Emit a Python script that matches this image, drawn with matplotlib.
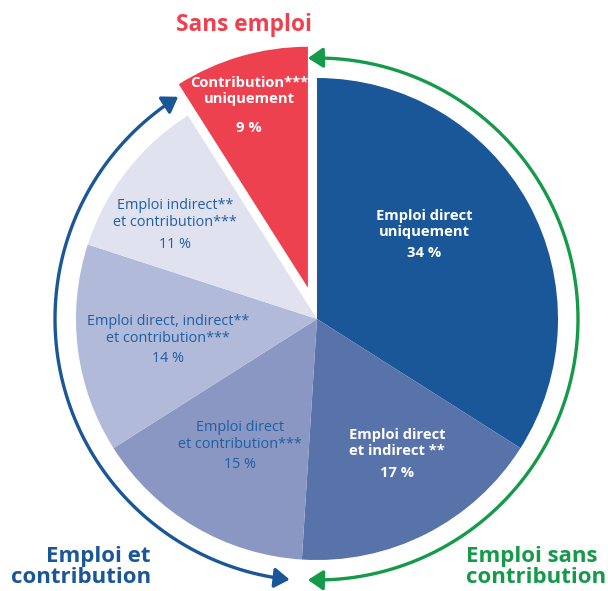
import numpy as np
import matplotlib
matplotlib.use('Agg')
import matplotlib.pyplot as plt
from matplotlib.patches import FancyArrowPatch
from matplotlib.path import Path

# data
shares = [34, 17, 15, 14, 11, 9]
slice_names = ['Emploi direct\nuniquement', 'Emploi direct\net indirect **',
               'Emploi direct\net contribution***', 'Emploi direct, indirect**\net contribution***',
               'Emploi indirect**\net contribution***', 'Contribution***\nuniquement']
group_titles = ['Sans emploi', 'Emploi sans\ncontribution', 'Emploi et\ncontribution']

colors = ['#1a5798', '#5872aa', '#8a97c3', '#b1bad9', '#e0e3ef', '#ee4150']
txt_colors = ['white', 'white', '#1f5ea3', '#1f5ea3', '#1f5ea3', 'white']
txt_bold = [True, True, False, False, False, True]
explode = [0, 0, 0, 0, 0, 0.135]
# label layout in pixels: x, y of name block center, y of percent (from top)
label_pos = [(424, 224, 253), (397, 443, 473), (240, 436, 465),
             (168, 330, 358), (175, 214, 244), (249, 91, 128)]

W, H = 608, 591
cx, cy, R = 317, H - 319, 241

plt.rcParams['font.family'] = ['Open Sans', 'DejaVu Sans']
fig = plt.figure(figsize=(W / 100, H / 100), dpi=100)
ax = fig.add_axes([0, 0, 1, 1])

ax.pie(shares, colors=colors, startangle=90, counterclock=False, center=(cx, cy),
       radius=R, explode=[e * R for e in explode], wedgeprops=dict(linewidth=0), frame=True)
ax.set_xlim(0, W)
ax.set_ylim(0, H)
ax.set_aspect('equal')
ax.axis('off')

for i, s in enumerate(shares):
    x, y1, y2 = label_pos[i]
    fw = 'bold' if txt_bold[i] else 'normal'
    fs = 10.6 if txt_bold[i] else 10.4
    ax.text(x, H - y1, slice_names[i], ha='center', va='center',
            color=txt_colors[i], fontsize=fs, fontweight=fw, linespacing=1.2)
    ax.text(x, H - y2, f'{s} %', ha='center', va='center',
            color=txt_colors[i], fontsize=fs, fontweight=fw)


def arc(a0, a1, r, color):
    t = np.radians(np.linspace(a0, a1, 200))
    pts = np.column_stack([cx + r * np.cos(t), cy + r * np.sin(t)])
    p = FancyArrowPatch(path=Path(pts), arrowstyle='<|-|>,head_length=9,head_width=6',
                        color=color, linewidth=2.4, mutation_scale=1)
    ax.add_patch(p)


green = '#159a4a'
blue = '#1a5798'
red = '#ee4150'
arc(92, -92, 261, green)
arc(-96, -238, 262, blue)

ax.text(244, H - 25, group_titles[0], ha='center', va='center', color=red,
        fontsize=16.3, fontweight='bold')
ax.text(466, H - 567, group_titles[1], ha='left', va='center', color=green,
        fontsize=16, fontweight='bold', linespacing=1.05)
ax.text(151, H - 567, group_titles[2], ha='right', va='center', color=blue,
        fontsize=16, fontweight='bold', linespacing=1.05)

fig.savefig('out.png', dpi=100)
